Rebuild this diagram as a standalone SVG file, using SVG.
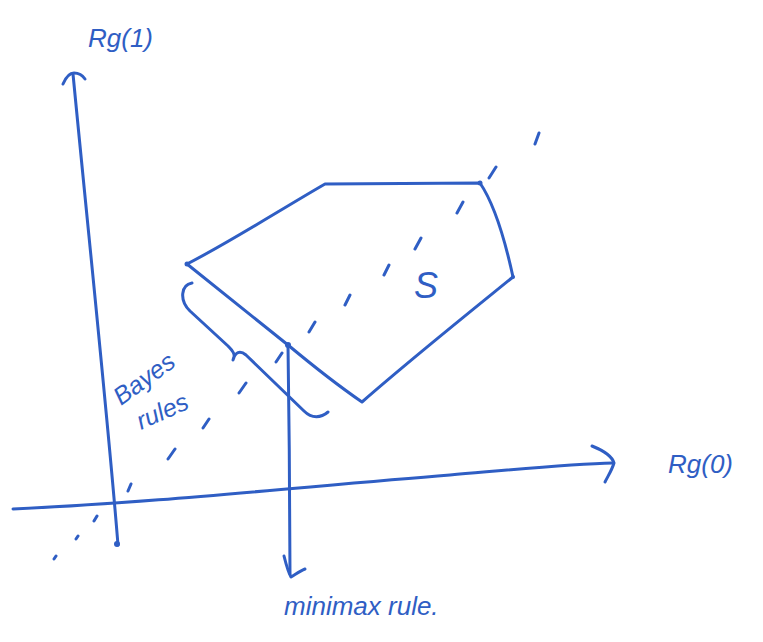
<svg xmlns="http://www.w3.org/2000/svg" width="763" height="642" viewBox="0 0 763 642">
<style>
.s{fill:none;stroke:#2f5ec4;stroke-width:3;stroke-linecap:round;stroke-linejoin:round}
.d{fill:none;stroke:#2f5ec4;stroke-width:3;stroke-linecap:round}
.t{fill:#2f5ec4;font-family:"Liberation Sans",Arial,sans-serif;font-style:italic}
</style>
<rect width="763" height="642" fill="#ffffff"/>
<g id="axes">
<path class="s" d="M118,545 C108,420 90,250 73,74"/>
<path class="s" d="M63,84 C66,77 70,73 74,73 C79,73 83,76 85,79"/>
<path class="s" d="M13,509 C150,503 300,487 450,475 C520,469 570,464 613,463"/>
<path class="s" d="M592,446 C602,450 612,456 614,463 C612,470 608,476 605,482"/>
<circle cx="117" cy="544" r="3" fill="#2f5ec4"/>
</g>
<g id="diagonal">
<path class="d" d="M54,559 l2,-3 M76,539 l2,-3 M94,521 l3,-5 M128,491 l3,-7 M168,459 l7,-10 M203,428 l6,-9 M239,393 l7,-10 M276,362 l6,-9 M309,332 l6,-10 M345,305 l5,-10 M384,275 l5,-10 M415,249 l6,-11 M457,213 l6,-11 M489,178 l7,-11 M535,144 l4,-11"/>
</g>
<g id="S">
<path class="s" d="M187,264 C230,242 280,210 325,184 L480,183 C495,205 505,240 513,277 C460,320 410,360 362,402 C330,380 300,355 288,345 L187,264 Z"/>
<circle cx="187" cy="264" r="2.5" fill="#2f5ec4"/>
<circle cx="480" cy="183" r="2.5" fill="#2f5ec4"/>
<circle cx="513" cy="277" r="2" fill="#2f5ec4"/>
<circle cx="288" cy="345" r="3" fill="#2f5ec4"/>
<text class="t" x="414" y="298" font-size="36">S</text>
</g>
<g id="bayes">
<path class="s" d="M192,283 C181,285 179,300 190,311 L228,346 C233,351 236,355 233,360 C235,352 240,350 246,355 L304,411 C312,419 321,418 328,412"/>
<text class="t" font-size="25" transform="translate(121,406) rotate(-36)">Bayes</text>
<text class="t" font-size="25" transform="translate(141,430) rotate(-24)">rules</text>
</g>
<g id="minimax">
<path class="s" d="M288,345 C289,420 290,500 290,574"/>
<path class="s" d="M284,556 C286,564 288,572 291,577 C296,574 300,571 305,569"/>
<text class="t" x="284" y="615" font-size="26">minimax rule.</text>
</g>
<g id="labels">
<text class="t" x="88" y="47" font-size="26">Rg(1)</text>
<text class="t" x="668" y="473" font-size="26">Rg(0)</text>
</g>
</svg>
